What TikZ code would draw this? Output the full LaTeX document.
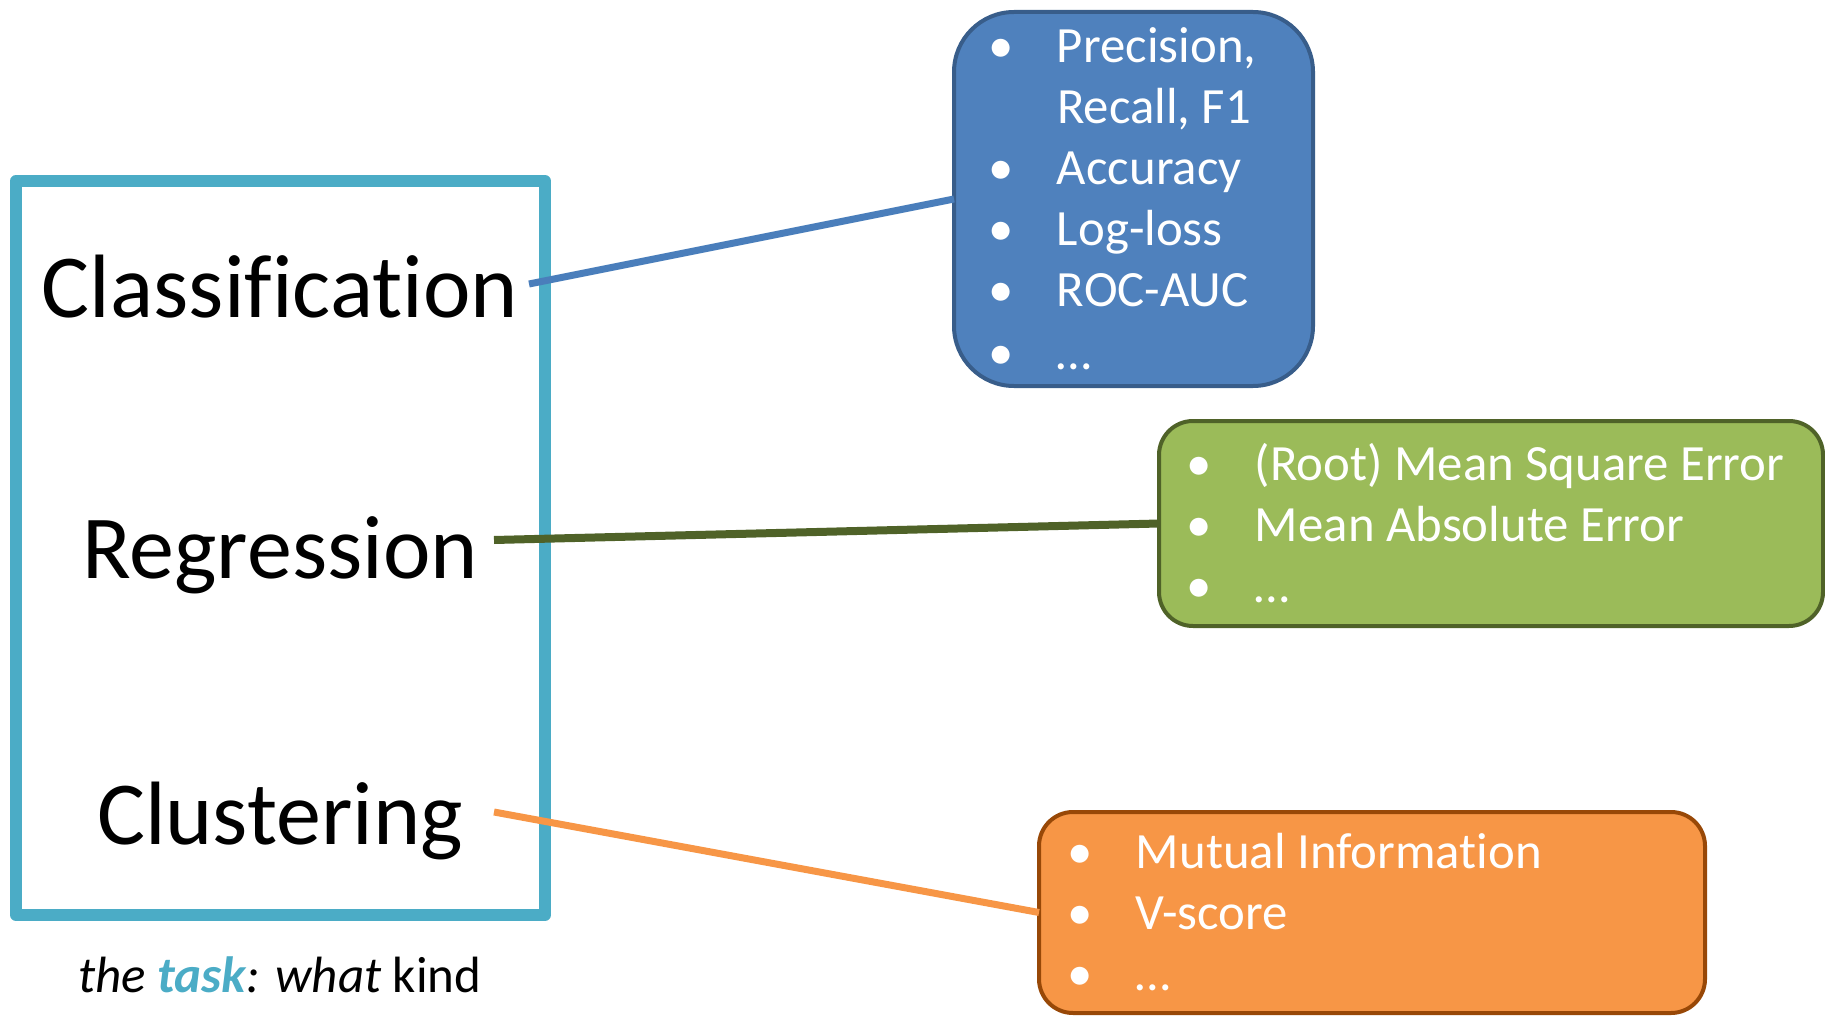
\documentclass[tikz,border=0pt]{standalone}
\usepackage{fontspec}
\setmainfont{Carlito}[Ligatures={CommonOff,ContextualOff,RareOff}]
\usepackage{tikz}
\usetikzlibrary{positioning}
\definecolor{taskteal}{HTML}{4BACC6}
\definecolor{clsfill}{HTML}{4F81BD}
\definecolor{clsdraw}{HTML}{385D8A}
\definecolor{clsline}{HTML}{4A7EBB}
\definecolor{regfill}{HTML}{9BBB59}
\definecolor{regdraw}{HTML}{4F6228}
\definecolor{clufill}{HTML}{F79646}
\definecolor{cludraw}{HTML}{984807}
\newcommand{\itm}{\makebox[24pt][c]{\textbullet}\hspace{16pt}}
\newcommand{\cnt}{\hspace{40pt}}

\begin{document}
\begin{tikzpicture}[
  x=0.5pt, y=-0.5pt,
  taskbox/.style={draw=taskteal, line width=6pt, line join=round, outer sep=0pt, inner sep=0pt},
  tasklbl/.style={font=\fontsize{45}{54}\selectfont, anchor=base, inner sep=0pt},
  metric/.style={line width=2pt, outer sep=0pt, inner ysep=0pt, align=left, anchor=north west,
    text=white, font=\fontsize{25.4}{30.5}\selectfont, execute at begin node={\spaceskip=0pt\relax}},
  link/.style={line width=3.5pt}
]
\useasboundingbox (0,0) rectangle (1825,1016);
% Task box with the three kinds
\node[taskbox, minimum width=264.5pt, minimum height=367pt] (task) at (280.5,548) {};
\node[tasklbl] (cls) at (280,317) {Classification};
\node[tasklbl] (reg) at (280,578) {Regression};
\node[tasklbl] (clu) at (280,844) {Clustering};
\node[font=\fontsize{25.5}{31}\selectfont, anchor=base, inner sep=0pt] (cap) at (280,992)
  {\textit{the \textbf{\color{taskteal}task}: what} kind};
% Metric boxes
\node[metric, fill=clsfill, draw=clsdraw, rounded corners=30pt, minimum width=179.5pt,
  minimum height=187pt, text width=156.5pt, inner xsep=11.5pt] (clsmet) at (954,12)
  {\itm Precision,\\ \cnt Recall, F1\\ \itm Accuracy\\ \itm Log-loss\\ \itm ROC-AUC\\[1pt] \itm …};
\node[metric, fill=regfill, draw=regdraw, rounded corners=17pt, minimum width=332pt,
  minimum height=102.5pt, text width=316pt, inner xsep=8pt] (regmet) at (1159,421)
  {\itm (Root) Mean Square Error\\ \itm Mean Absolute Error\\ \itm …};
\node[metric, fill=clufill, draw=cludraw, rounded corners=17pt, minimum width=333pt,
  minimum height=100.5pt, text width=316pt, inner xsep=8.5pt] (clumet) at (1039,812)
  {\itm Mutual Information\\ \itm V-score\\ \itm …};
% Connectors
\coordinate (clsout) at (529,284);
\coordinate (regout) at (494,540);
\coordinate (cluout) at (494,812);
\draw[link, draw=clsline] (clsout) -- (clsmet.west);
\draw[link, line width=4pt, draw=regdraw] (regout) -- (regmet.west);
\draw[link, draw=clufill] (cluout) -- (clumet.west);
\end{tikzpicture}
\end{document}
